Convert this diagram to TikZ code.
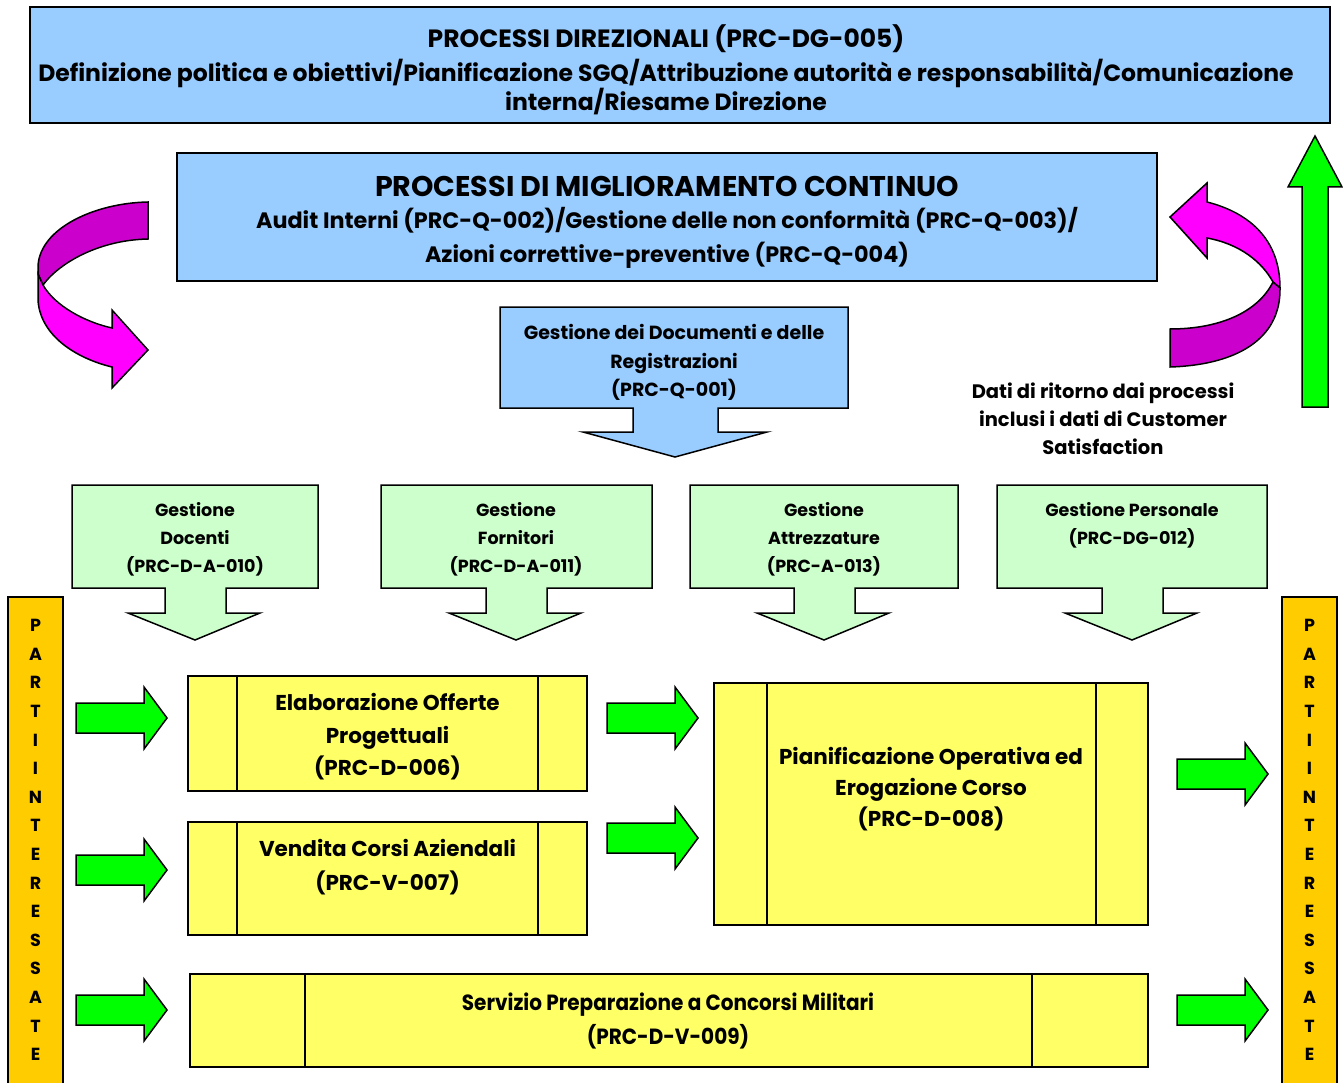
\documentclass[tikz,border=0pt]{standalone}
\usepackage{fontspec}
\setmainfont{Poppins}
\definecolor{bluebox}{HTML}{99CCFF}
\definecolor{greenbox}{HTML}{CCFFCC}
\definecolor{yellowbox}{HTML}{FFFF66}
\definecolor{orangebar}{HTML}{FFCC00}
\definecolor{brightgreen}{HTML}{00FF00}
\definecolor{magfront}{HTML}{FF00FF}
\definecolor{magback}{HTML}{CC00CC}
\newcommand\myf[1]{\fontsize{#1}{#1}\selectfont\bfseries}
\tikzset{
  bx/.style={draw=black, line width=1.5pt, line join=miter},
  tl/.style={anchor=base, inner sep=0pt, font=\myf{#1}},
  barletters/.style={inner sep=0pt, align=center, font=\fontsize{17.5}{28.6}\selectfont\bfseries},
  rarrow/.pic={\filldraw[bx, fill=brightgreen] (0,-15) -- (68,-15) -- (68,-31) -- (91,0) -- (68,31) -- (68,15) -- (0,15) -- cycle;}
}
\begin{document}
\begin{tikzpicture}[x=1pt,y=-1pt]
\useasboundingbox (0,0) rectangle (1343,1083);

% top box
\filldraw[bx, fill=bluebox] (30,7) rectangle (1330,123);
\node[tl=25] (dirT) at (666,48) {PROCESSI DIREZIONALI (PRC-DG-005)};
\node[tl=23.5] (dirA) at (666,82) {Definizione politica e obiettivi/Pianificazione SGQ/Attribuzione autorità e responsabilità/Comunicazione};
\node[tl=23.5] (dirB) at (666,111) {interna/Riesame Direzione};

% second box
\filldraw[bx, fill=bluebox] (177,153) rectangle (1157,281);
\node[tl=28.5] (migT) at (667,196.5) {PROCESSI DI MIGLIORAMENTO CONTINUO};
\node[tl=22.3] (migA) at (667,228.5) {Audit Interni (PRC-Q-002)/Gestione delle non conformità (PRC-Q-003)/};
\node[tl=22.3] (migB) at (667,262.5) {Azioni correttive-preventive (PRC-Q-004)};

% left curved arrow
\filldraw[bx, fill=magback] (148,202) .. controls (95,203) and (40,228) .. (38,266) -- (38,274) -- (43,285) .. controls (60,262) and (100,240) .. (148,239) -- cycle;
\filldraw[bx, fill=magfront] (38,274) -- (43,285) .. controls (55,306) and (85,322) .. (112,328) -- (112,310) -- (148,350) -- (112,388) -- (112,367) .. controls (75,358) and (40,335) .. (38,300) -- cycle;

% right curved arrow
\filldraw[bx, fill=magfront] (1170,217) -- (1207,183) -- (1207,202) .. controls (1250,213) and (1280,240) .. (1280,288) -- (1273,282) .. controls (1262,262) and (1240,244) .. (1207,238) -- (1207,258) -- cycle;
\filldraw[bx, fill=magback] (1273,282) .. controls (1258,312) and (1220,329) .. (1170,329) -- (1170,367) .. controls (1235,365) and (1281,340) .. (1280,288) -- cycle;

% green up arrow
\filldraw[bx, fill=brightgreen] (1302,407) -- (1302,187) -- (1288,187) -- (1315,136) -- (1342,187) -- (1328,187) -- (1328,407) -- cycle;

% documents callout
\filldraw[bx, fill=bluebox] (500,307) -- (848,307) -- (848,408) -- (718,408) -- (718,432) -- (767,432) -- (675,457) -- (583,432) -- (633,432) -- (633,408) -- (500,408) -- cycle;
\node[tl=19] (docA) at (674,339) {Gestione dei Documenti e delle};
\node[tl=19] (docB) at (674,368) {Registrazioni};
\node[tl=19] (docC) at (674,396) {(PRC-Q-001)};

% feedback text
\node[tl=19.5] (datA) at (1103,398.5) {Dati di ritorno dai processi};
\node[tl=19.5] (datB) at (1103,426.5) {inclusi i dati di Customer};
\node[tl=19.5] (datC) at (1103,454.5) {Satisfaction};

% green callouts
\filldraw[bx, fill=greenbox] (72,485) -- (318,485) -- (318,588) -- (226,588) -- (226,613) -- (260,613) -- (195,640) -- (128,613) -- (165,613) -- (165,588) -- (72,588) -- cycle;
\node[tl=17.5] (g1a) at (195,516) {Gestione};
\node[tl=17.5] (g1b) at (195,544) {Docenti};
\node[tl=17.5] (g1c) at (195,572) {(PRC-D-A-010)};

\filldraw[bx, fill=greenbox] (381,485) -- (652,485) -- (652,588) -- (547,588) -- (547,613) -- (581,613) -- (516,640) -- (449,613) -- (486,613) -- (486,588) -- (381,588) -- cycle;
\node[tl=17.5] (g2a) at (516,516) {Gestione};
\node[tl=17.5] (g2b) at (516,544) {Fornitori};
\node[tl=17.5] (g2c) at (516,572) {(PRC-D-A-011)};

\filldraw[bx, fill=greenbox] (690,485) -- (958,485) -- (958,588) -- (855,588) -- (855,613) -- (889,613) -- (824,640) -- (757,613) -- (794,613) -- (794,588) -- (690,588) -- cycle;
\node[tl=17.5] (g3a) at (824,516) {Gestione};
\node[tl=17.5] (g3b) at (824,544) {Attrezzature};
\node[tl=17.5] (g3c) at (824,572) {(PRC-A-013)};

\filldraw[bx, fill=greenbox] (997,485) -- (1267,485) -- (1267,588) -- (1163,588) -- (1163,613) -- (1197,613) -- (1132,640) -- (1065,613) -- (1102,613) -- (1102,588) -- (997,588) -- cycle;
\node[tl=17.5] (g4a) at (1132,516) {Gestione Personale};
\node[tl=17.5] (g4b) at (1132,544) {(PRC-DG-012)};

% side bars
\filldraw[bx, fill=orangebar] (8,597) rectangle (63,1090);
\node[barletters] (partiL) at (35.5,840) {P\\A\\R\\T\\I\\I\\N\\T\\E\\R\\E\\S\\S\\A\\T\\E};
\filldraw[bx, fill=orangebar] (1282,597) rectangle (1337,1090);
\node[barletters] (partiR) at (1309.5,840) {P\\A\\R\\T\\I\\I\\N\\T\\E\\R\\E\\S\\S\\A\\T\\E};

% yellow process boxes
\filldraw[bx, fill=yellowbox] (188,676) rectangle (587,791);
\draw[bx] (237,676) -- (237,791) (538,676) -- (538,791);
\node[tl=21.5] (elaA) at (387.5,710) {Elaborazione Offerte};
\node[tl=21.5] (elaB) at (387.5,743) {Progettuali};
\node[tl=21.5] (elaC) at (387.5,775) {(PRC-D-006)};

\filldraw[bx, fill=yellowbox] (188,822) rectangle (587,935);
\draw[bx] (237,822) -- (237,935) (538,822) -- (538,935);
\node[tl=21.5] (venA) at (387.5,856) {Vendita Corsi Aziendali};
\node[tl=21.5] (venB) at (387.5,890) {(PRC-V-007)};

\filldraw[bx, fill=yellowbox] (714,683) rectangle (1148,925);
\draw[bx] (767,683) -- (767,925) (1096,683) -- (1096,925);
\node[tl=21.5] (pioA) at (931,764) {Pianificazione Operativa ed};
\node[tl=21.5] (pioB) at (931,795) {Erogazione Corso};
\node[tl=21.5] (pioC) at (931,826) {(PRC-D-008)};

\filldraw[bx, fill=yellowbox] (190,974) rectangle (1148,1067);
\draw[bx] (305,974) -- (305,1067) (1032,974) -- (1032,1067);
\node[tl=22, xscale=0.91] (serA) at (668,1010) {Servizio Preparazione a Concorsi Militari};
\node[tl=22, xscale=0.91] (serB) at (668,1044) {(PRC-D-V-009)};

% green right arrows
\pic at (76,718) {rarrow};
\pic at (76,870) {rarrow};
\pic at (76,1010) {rarrow};
\pic at (607,718) {rarrow};
\pic at (607,838) {rarrow};
\pic at (1177,774) {rarrow};
\pic at (1177,1010) {rarrow};
\end{tikzpicture}
\end{document}
